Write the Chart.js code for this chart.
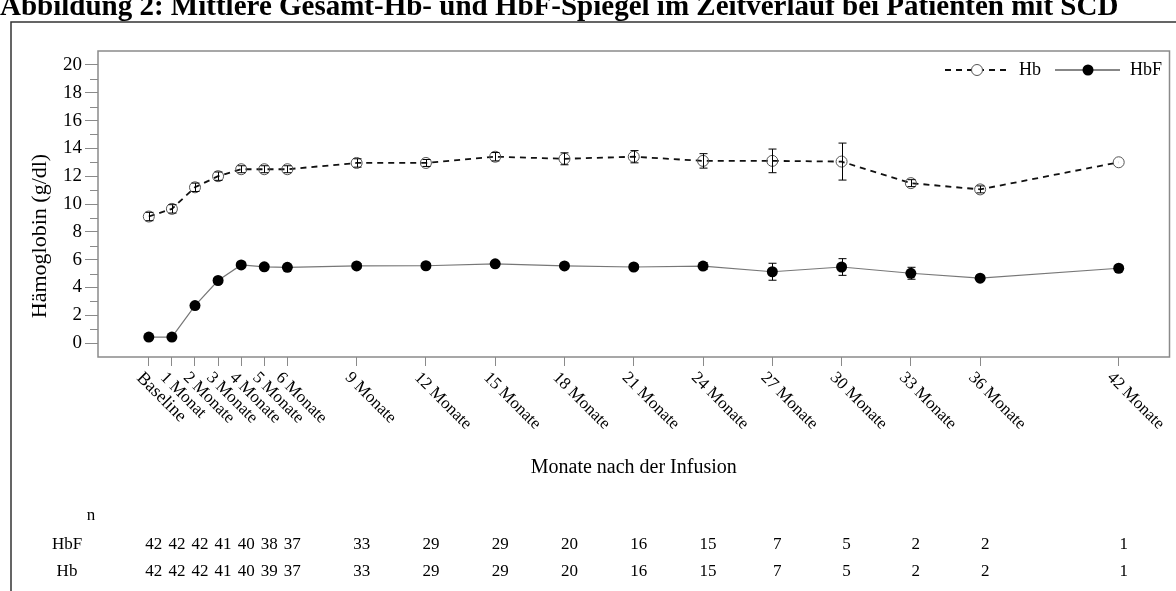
<!DOCTYPE html>
<html>
<head>
<meta charset="utf-8">
<script src="https://cdn.jsdelivr.net/npm/chart.js@4.4.1/dist/chart.umd.min.js"></script>
<style>
  body { margin: 0; background: #fff; }
  #wrap { width: 1176px; height: 591px; position: relative; }
</style>
</head>
<body>
<div id="wrap"><canvas id="hbChart" width="1176" height="591"></canvas></div>
<script>
// Zeitpunkte (Monate nach der Infusion) und Beschriftungen
const months = [0, 1, 2, 3, 4, 5, 6, 9, 12, 15, 18, 21, 24, 27, 30, 33, 36, 42];
const monthLabels = ['Baseline', '1 Monat', '2 Monate', '3 Monate', '4 Monate', '5 Monate', '6 Monate',
  '9 Monate', '12 Monate', '15 Monate', '18 Monate', '21 Monate', '24 Monate', '27 Monate',
  '30 Monate', '33 Monate', '36 Monate', '42 Monate'];
const yTicks = [0, 2, 4, 6, 8, 10, 12, 14, 16, 18, 20];

// Mittelwerte (g/dl)
const hbMean = [9.1, 9.65, 11.2, 12.0, 12.5, 12.5, 12.5, 12.95, 12.95, 13.4, 13.25, 13.4, 13.1, 13.1, 13.05, 11.5, 11.05, 13.0];
const hbfMean = [0.43, 0.43, 2.7, 4.5, 5.62, 5.48, 5.45, 5.55, 5.56, 5.7, 5.55, 5.47, 5.54, 5.13, 5.47, 5.02, 4.67, 5.38];

// Fehlerbalken (+/-)
const hbErr = [0.3, 0.3, 0.3, 0.3, 0.25, 0.25, 0.25, 0.3, 0.25, 0.3, 0.43, 0.44, 0.52, 0.85, 1.33, 0.25, 0.25, 0];
const hbfErr = [0.1, 0.1, 0.15, 0.15, 0.2, 0.15, 0.15, 0.15, 0.15, 0.15, 0.15, 0.15, 0.25, 0.61, 0.6, 0.43, 0.15, 0];

// Patientenzahlen
const nHbF = [42, 42, 42, 41, 40, 38, 37, 33, 29, 29, 20, 16, 15, 7, 5, 2, 2, 1];
const nHb = [42, 42, 42, 41, 40, 39, 37, 33, 29, 29, 20, 16, 15, 7, 5, 2, 2, 1];

const FONT = 'Liberation Serif';
const AXIS_GRAY = '#8a8a8a';

Chart.defaults.font.family = FONT;
Chart.defaults.color = '#000';

const toPoints = (vals) => vals.map((v, i) => ({ x: months[i], y: v }));

// Hintergrund, Rahmen, Titel, Fehlerbalken, Legende, Achsentexte, n-Tabelle
const extras = {
  id: 'extras',
  beforeDraw(chart) {
    const ctx = chart.ctx;
    ctx.save();
    ctx.fillStyle = '#fff';
    ctx.fillRect(0, 0, chart.width, chart.height);

    // Titel (oben abgeschnitten)
    ctx.fillStyle = '#000';
    ctx.font = 'bold 29px ' + FONT;
    ctx.textAlign = 'left';
    ctx.textBaseline = 'alphabetic';
    ctx.fillText('Abbildung 2: Mittlere Gesamt-Hb- und HbF-Spiegel im Zeitverlauf bei Patienten mit SCD', 0, 15);

    // äußerer Rahmen
    ctx.strokeStyle = '#333';
    ctx.lineWidth = 1.5;
    ctx.beginPath();
    ctx.moveTo(11, chart.height);
    ctx.lineTo(11, 22);
    ctx.lineTo(chart.width, 22);
    ctx.stroke();
    ctx.restore();
  },
  beforeDatasetsDraw(chart) {
    const { ctx, chartArea: a, scales: { y } } = chart;
    ctx.save();
    // Rahmen des Diagrammbereichs
    ctx.strokeStyle = AXIS_GRAY;
    ctx.lineWidth = 1.5;
    ctx.strokeRect(a.left, a.top, a.right - a.left, a.bottom - a.top);
    // kleine Ticks zwischen den Hauptticks
    ctx.lineWidth = 1;
    for (let v = 1; v < 20; v += 2) {
      const py = Math.round(y.getPixelForValue(v)) + 0.5;
      ctx.beginPath();
      ctx.moveTo(a.left - 8, py);
      ctx.lineTo(a.left, py);
      ctx.stroke();
    }
    ctx.restore();
  },
  afterDatasetsDraw(chart) {
    const { ctx, scales: { x, y } } = chart;
    ctx.save();
    ctx.strokeStyle = '#000';
    ctx.lineWidth = 1;
    [[hbMean, hbErr], [hbfMean, hbfErr]].forEach(([means, errs]) => {
      means.forEach((m, i) => {
        if (!errs[i]) return;
        const px = Math.round(x.getPixelForValue(months[i])) + 0.5;
        const y1 = y.getPixelForValue(m - errs[i]);
        const y2 = y.getPixelForValue(m + errs[i]);
        ctx.beginPath();
        ctx.moveTo(px, y1); ctx.lineTo(px, y2);
        ctx.moveTo(px - 4, y1); ctx.lineTo(px + 4, y1);
        ctx.moveTo(px - 4, y2); ctx.lineTo(px + 4, y2);
        ctx.stroke();
      });
    });
    ctx.restore();
  },
  afterDraw(chart) {
    const { ctx, chartArea: a, scales: { x } } = chart;
    ctx.save();

    // Legende
    const ly = 70;
    ctx.strokeStyle = '#111';
    ctx.lineWidth = 1.8;
    ctx.setLineDash([6, 5]);
    ctx.beginPath(); ctx.moveTo(945, ly); ctx.lineTo(1010, ly); ctx.stroke();
    ctx.setLineDash([]);
    ctx.fillStyle = '#fff';
    ctx.strokeStyle = '#555';
    ctx.lineWidth = 1;
    ctx.beginPath(); ctx.arc(977, ly, 5.5, 0, Math.PI * 2); ctx.fill(); ctx.stroke();
    ctx.strokeStyle = '#111';
    ctx.lineWidth = 1.2;
    ctx.beginPath(); ctx.moveTo(1055, ly); ctx.lineTo(1120, ly); ctx.stroke();
    ctx.fillStyle = '#000';
    ctx.beginPath(); ctx.arc(1088, ly, 5.5, 0, Math.PI * 2); ctx.fill();
    ctx.font = '18px ' + FONT;
    ctx.textBaseline = 'middle';
    ctx.textAlign = 'left';
    ctx.fillText('Hb', 1019, ly);
    ctx.fillText('HbF', 1130, ly);

    // x-Beschriftungen, 45° gedreht
    ctx.textBaseline = 'top';
    monthLabels.forEach((lab, i) => {
      const px = x.getPixelForValue(months[i]);
      ctx.save();
      ctx.translate(px - 3, 369);
      ctx.rotate(Math.PI / 4);
      ctx.font = (i === 0 ? '18px ' : '17px ') + FONT;
      ctx.fillText(lab, 0, 0);
      ctx.restore();
    });

    // Achsentitel
    ctx.font = '20px ' + FONT;
    ctx.textAlign = 'center';
    ctx.textBaseline = 'middle';
    ctx.fillText('Monate nach der Infusion', (a.left + a.right) / 2, 468);
    ctx.save();
    ctx.translate(40, 236);
    ctx.rotate(-Math.PI / 2);
    ctx.font = '22px ' + FONT;
    ctx.fillText('Hämoglobin (g/dl)', 0, 0);
    ctx.restore();

    // n-Tabelle
    ctx.font = '17px ' + FONT;
    ctx.fillText('n', 91, 516);
    ctx.fillText('HbF', 67, 545);
    ctx.fillText('Hb', 67, 572);
    months.forEach((m, i) => {
      const px = x.getPixelForValue(m) + 5;
      ctx.fillText(String(nHbF[i]), px, 545);
      ctx.fillText(String(nHb[i]), px, 572);
    });
    ctx.restore();
  }
};

new Chart(document.getElementById('hbChart').getContext('2d'), {
  type: 'line',
  data: {
    datasets: [
      {
        label: 'Hb',
        data: toPoints(hbMean),
        borderColor: '#111',
        borderWidth: 1.8,
        borderDash: [6, 5],
        pointRadius: 5.5,
        pointBorderWidth: 1,
        pointBorderColor: '#555',
        pointBackgroundColor: 'rgba(0,0,0,0)',
        tension: 0
      },
      {
        label: 'HbF',
        data: toPoints(hbfMean),
        borderColor: '#777',
        borderWidth: 1.2,
        pointRadius: 5.5,
        pointBorderWidth: 0,
        pointBorderColor: '#000',
        pointBackgroundColor: '#000',
        tension: 0
      }
    ]
  },
  options: {
    responsive: false,
    animation: false,
    events: [],
    layout: { padding: { left: 0, top: 51, right: 1, bottom: 0 } },
    scales: {
      x: {
        type: 'linear',
        min: -2.2,
        max: 44.2,
        afterBuildTicks: (scale) => { scale.ticks = months.map(v => ({ value: v })); },
        afterFit: (scale) => { scale.height = 234; },
        ticks: { autoSkip: false, maxRotation: 0, callback: () => '' },
        grid: { drawOnChartArea: false, tickLength: 9, color: AXIS_GRAY, tickColor: AXIS_GRAY },
        border: { display: false }
      },
      y: {
        min: -1,
        max: 21,
        afterBuildTicks: (scale) => { scale.ticks = yTicks.map(v => ({ value: v })); },
        afterFit: (scale) => { scale.width = 98; },
        ticks: {
          autoSkip: false,
          padding: 3,
          font: { size: 19, family: FONT },
          color: '#000',
          callback: (v) => String(v)
        },
        grid: {
          drawOnChartArea: false,
          tickLength: 13,
          tickColor: AXIS_GRAY
        },
        border: { display: false }
      }
    },
    plugins: {
      legend: { display: false },
      tooltip: { enabled: false }
    }
  },
  plugins: [extras]
});
</script>
</body>
</html>
